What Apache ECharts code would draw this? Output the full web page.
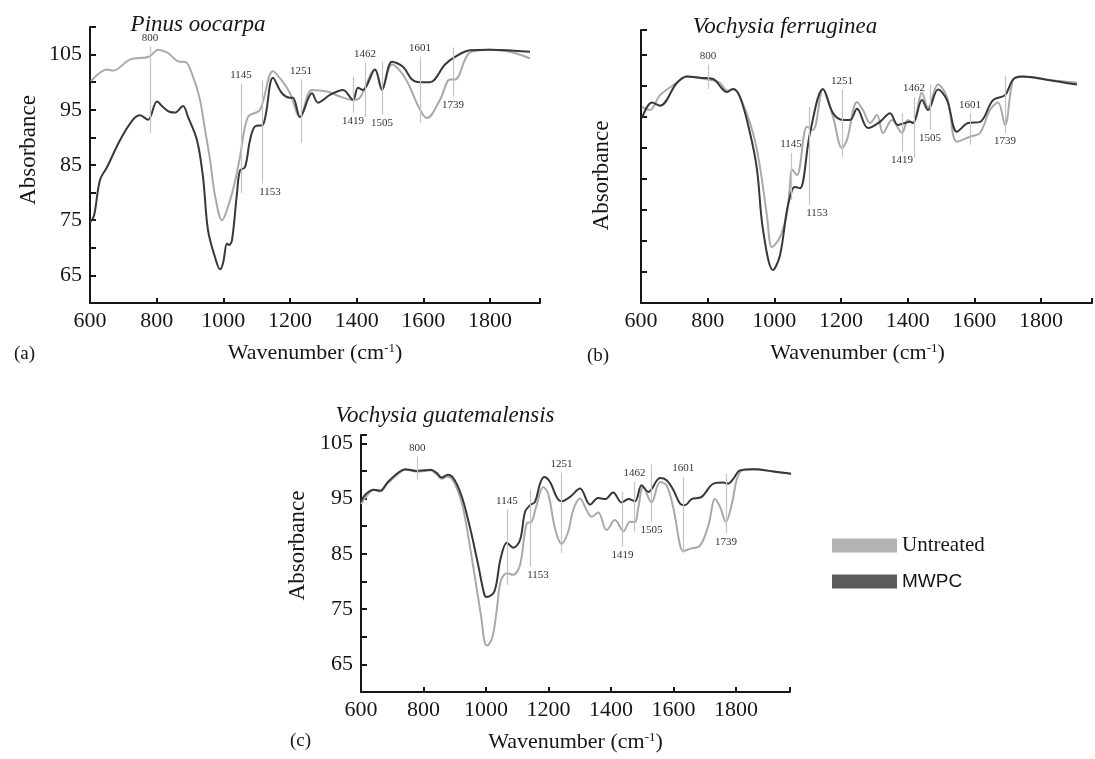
<!DOCTYPE html>
<html>
<head>
<meta charset="utf-8">
<style>
  html, body { margin: 0; padding: 0; background: #fff; }
  #chart { width: 1095px; height: 759px; }
</style>
<script src="https://cdn.jsdelivr.net/npm/echarts@6/dist/echarts.min.js"></script>
</head>
<body>
<div id="chart"></div>
<script>
// FTIR spectra, [wavenumber, absorbance]
var aUntreated = [[603,100.2],[651,102.3],[669,102.1],[720,104.1],[777,104.6],[804,105.9],[831,105.4],[870,103.7],[885,103.7],[909,101.0],[930,96.8],[945,91.4],[960,86.0],[975,79.5],[996,75.0],[1020,78.6],[1035,82.0],[1050,86.5],[1074,93.7],[1110,95.0],[1149,102.0],[1179,100.0],[1200,98.0],[1230,93.7],[1266,98.6],[1311,98.3],[1350,97.4],[1389,96.8],[1410,97.2],[1455,102.3],[1476,99.0],[1506,103.2],[1545,100.8],[1590,95.0],[1611,93.5],[1650,96.8],[1680,100.5],[1695,100.5],[1740,105.4],[1800,105.9],[1860,105.5],[1920,104.3]];
var aMWPC = [[600,74.6],[612,75.8],[630,82.3],[651,84.6],[690,89.5],[729,93.2],[750,94.0],[774,93.2],[801,96.5],[819,95.5],[840,94.6],[855,94.5],[879,95.7],[894,93.7],[921,89.5],[939,82.8],[954,73.2],[975,68.3],[990,66.1],[999,67.2],[1011,70.8],[1017,70.5],[1026,71.4],[1041,79.9],[1050,84.0],[1065,84.6],[1080,89.5],[1095,92.0],[1119,92.3],[1149,100.8],[1176,98.0],[1200,97.2],[1209,97.2],[1230,93.7],[1266,98.0],[1284,96.3],[1320,97.7],[1359,98.6],[1389,96.8],[1404,99.0],[1419,98.6],[1455,102.3],[1476,98.6],[1506,103.7],[1539,102.8],[1566,100.5],[1590,100.0],[1620,100.0],[1665,103.2],[1695,104.6],[1740,105.8],[1800,105.9],[1920,105.5]];

var bUntreated = [[603,91.6],[627,91.1],[657,93.5],[708,95.5],[738,96.5],[801,96.0],[837,95.5],[858,94.2],[876,94.5],[897,93.2],[936,87.4],[957,81.9],[978,74.0],[993,69.0],[1017,70.6],[1038,74.5],[1047,79.0],[1053,81.5],[1068,80.6],[1098,88.4],[1116,87.9],[1146,94.4],[1176,90.0],[1203,85.0],[1218,86.3],[1248,92.4],[1266,91.1],[1287,89.0],[1308,90.3],[1326,87.4],[1353,89.5],[1383,87.4],[1401,89.5],[1416,89.0],[1443,93.9],[1461,91.5],[1491,95.2],[1518,93.2],[1548,86.0],[1587,86.8],[1617,87.4],[1647,91.1],[1671,92.3],[1692,88.7],[1716,96.0],[1737,96.5],[1818,96.0],[1908,95.5]];
var bMWPC = [[603,89.8],[633,92.3],[657,91.8],[708,95.5],[738,96.5],[777,96.3],[816,96.1],[858,94.0],[876,94.5],[897,93.2],[927,87.4],[948,81.5],[966,71.8],[996,65.3],[1017,67.7],[1038,75.0],[1053,78.2],[1062,78.7],[1077,78.5],[1107,87.4],[1146,94.5],[1176,90.6],[1206,89.5],[1227,89.5],[1248,91.3],[1281,88.2],[1317,89.2],[1347,90.6],[1371,88.7],[1407,89.2],[1416,89.0],[1443,92.7],[1461,91.1],[1491,94.4],[1518,92.7],[1548,87.6],[1581,89.0],[1617,89.2],[1656,92.7],[1692,93.5],[1716,96.0],[1746,96.5],[1818,96.0],[1908,95.2]];

var cUntreated = [[600,94.0],[615,95.2],[641,96.6],[661,96.3],[686,97.8],[722,99.6],[742,100.2],[777,99.9],[803,100.0],[823,100.1],[843,99.3],[858,98.6],[878,99.0],[899,97.8],[924,93.9],[944,87.9],[965,80.6],[985,73.4],[995,69.2],[1003,68.4],[1020,69.8],[1034,74.6],[1047,80.0],[1067,81.5],[1087,81.2],[1109,83.0],[1130,90.5],[1146,90.8],[1162,93.8],[1183,97.1],[1199,95.9],[1221,89.6],[1242,86.8],[1263,89.0],[1279,92.9],[1301,95.0],[1322,92.9],[1338,91.7],[1359,92.5],[1386,89.3],[1413,91.1],[1440,89.1],[1461,90.8],[1477,90.7],[1487,93.2],[1503,97.1],[1530,94.3],[1557,98.0],[1578,97.4],[1600,93.2],[1621,86.6],[1631,85.5],[1653,85.9],[1685,86.5],[1712,90.2],[1733,94.9],[1749,93.5],[1768,90.8],[1786,93.8],[1813,99.8],[1856,100.3],[1920,99.9],[2000,99.3]];
var cMWPC = [[600,94.5],[615,95.8],[641,96.6],[661,96.4],[686,98.0],[722,99.8],[742,100.3],[777,100.0],[803,100.1],[823,100.2],[843,99.6],[858,98.8],[878,99.3],[899,98.4],[924,95.1],[949,89.7],[975,83.0],[995,77.6],[1003,77.2],[1027,78.2],[1047,84.2],[1067,87.0],[1087,86.1],[1109,87.5],[1125,92.6],[1141,93.8],[1157,94.4],[1173,97.7],[1186,98.9],[1205,98.0],[1226,95.3],[1242,94.5],[1269,95.3],[1301,96.8],[1333,93.9],[1359,95.1],[1381,94.9],[1407,96.1],[1434,94.3],[1456,94.9],[1477,94.5],[1498,97.4],[1520,96.2],[1557,98.7],[1578,98.3],[1600,96.5],[1621,94.1],[1637,93.8],[1658,94.9],[1690,95.3],[1728,97.7],[1759,97.9],[1775,97.7],[1792,98.6],[1813,100.1],[1856,100.3],[1920,99.9],[2000,99.3]];

// peak markers: label, which end the label sits at, and the marker line in each panel
var peakLabels = ['800', '1145', '1153', '1251', '1419', '1462', '1505', '1601', '1739'];
var peakSide = ['top', 'top', 'bottom', 'top', 'bottom', 'top', 'bottom', 'top', 'bottom'];
var aPeakX = [780, 1053, 1116, 1233, 1389, 1425, 1476, 1590, 1689];
var aPeakTop = [106.5, 99.7, 100.3, 100.5, 101, 103.5, 103.7, 104.6, 106.3];
var aPeakBottom = [90.8, 79.9, 81.7, 89, 94.5, 93.7, 94.1, 92.6, 97.4];
var bPeakX = [801, 1050, 1104, 1203, 1383, 1419, 1467, 1587, 1692];
var bPeakTop = [98.4, 84.2, 91.6, 94.4, 90.6, 93.2, 95.2, 90.6, 96.6];
var bPeakBottom = [94.5, 76.6, 75.8, 83.5, 84.4, 83.4, 87.9, 85.5, 87.4];
var cPeakX = [780, 1067, 1141, 1242, 1437, 1475, 1530, 1631, 1768];
var cPeakTop = [102.6, 93, 96.5, 99.7, 96.2, 98, 101.2, 98.9, 99.5];
var cPeakBottom = [98.4, 79.4, 82.7, 85.2, 86.3, 89, 90.8, 85.1, 88.7];

var seriesNames = ['Untreated', 'MWPC'];
var panelTitles = ['Pinus oocarpa', 'Vochysia ferruginea', 'Vochysia guatemalensis'];
var panelTags = ['(a)', '(b)', '(c)'];

var serif = 'Liberation Serif';
var ink = '#161616';
var lightGrey = '#a9a9a9';
var darkGrey = '#383838';

var chart = echarts.init(document.getElementById('chart'));

function peakLines(xs, tops, bottoms) {
    var out = [];
    for (var i = 0; i < xs.length; i++) {
        var lbl = {
            position: peakSide[i] === 'top' ? 'start' : 'end',
            formatter: peakLabels[i],
            distance: 3
        };
        if (peakLabels[i] === '1153') lbl.offset = [8, 0];
        out.push([
            { coord: [xs[i], tops[i]], label: lbl },
            { coord: [xs[i], bottoms[i]] }
        ]);
    }
    return out;
}

function peaksSeries(idx, xs, tops, bottoms) {
    return {
        name: 'peaks' + idx,
        type: 'line',
        xAxisIndex: idx,
        yAxisIndex: idx,
        data: [],
        silent: true,
        z: 1,
        markLine: {
            silent: true,
            symbol: ['none', 'none'],
            animation: false,
            lineStyle: { type: 'solid', color: '#c4c4c4', width: 1.2 },
            label: { fontFamily: serif, fontSize: 11, color: '#333' },
            emphasis: { disabled: true },
            data: peakLines(xs, tops, bottoms)
        }
    };
}

function curve(name, data, idx, color) {
    return {
        name: name,
        type: 'line',
        xAxisIndex: idx,
        yAxisIndex: idx,
        data: data,
        smooth: 0.35,
        showSymbol: false,
        clip: false,
        z: name === 'MWPC' ? 3 : 2,
        lineStyle: { color: color, width: 2 },
        itemStyle: { color: color },
        emphasis: { disabled: true }
    };
}

function xAxisFor(idx, max, pad) {
    return {
        type: 'value',
        gridIndex: idx,
        min: 600,
        max: max,
        interval: 200,
        splitLine: { show: false },
        axisLine: { show: true, onZero: false, lineStyle: { color: ink, width: 2 } },
        axisTick: { show: true, inside: true, length: 5, lineStyle: { color: ink, width: 2 } },
        axisLabel: {
            margin: 7, fontFamily: serif, fontSize: 22, color: ink,
            formatter: function (v) { return v % 200 === 0 ? String(v) : ''; }
        },
        name: 'Wavenumber (cm{sup|-1})',
        nameLocation: 'middle',
        nameGap: 39,
        nameTextStyle: {
            fontFamily: serif, fontSize: 22, color: ink, padding: pad,
            rich: { sup: { fontFamily: serif, fontSize: 13, color: ink, verticalAlign: 'top', padding: [0, 0, 8, 0] } }
        }
    };
}

function yAxisFor(idx, max, showLabels, gap, pad) {
    return {
        type: 'value',
        gridIndex: idx,
        min: 60,
        max: max,
        interval: 5,
        splitLine: { show: false },
        axisLine: { show: true, onZero: false, lineStyle: { color: ink, width: 2 } },
        axisTick: { show: true, inside: true, length: 6, lineStyle: { color: ink, width: 2 } },
        axisLabel: {
            show: showLabels, margin: 8, fontFamily: serif, fontSize: 22, color: ink,
            formatter: function (v) { return v % 10 === 5 ? String(v) : ''; }
        },
        name: 'Absorbance',
        nameLocation: 'middle',
        nameGap: gap,
        nameTextStyle: { fontFamily: serif, fontSize: 23, color: ink, padding: pad }
    };
}

var option = {
    animation: false,
    backgroundColor: '#fff',
    title: [
        { text: panelTitles[0], left: 193, top: 8, textAlign: 'center' },
        { text: panelTitles[1], left: 780, top: 10, textAlign: 'center' },
        { text: panelTitles[2], left: 440, top: 399, textAlign: 'center' }
    ].map(function (t) {
        t.textStyle = { fontFamily: serif, fontStyle: 'italic', fontWeight: 'normal', fontSize: 23, color: ink };
        return t;
    }),
    legend: {
        orient: 'vertical',
        left: 827,
        top: 530,
        itemWidth: 65,
        itemHeight: 14,
        itemGap: 16,
        selectedMode: false,
        itemStyle: { borderWidth: 0 },
        data: [
            { name: seriesNames[0], icon: 'rect', itemStyle: { color: '#b3b3b3', borderWidth: 0 },
              textStyle: { fontFamily: serif, fontSize: 21, color: ink } },
            { name: seriesNames[1], icon: 'rect', itemStyle: { color: '#5b5b5b', borderWidth: 0 },
              textStyle: { fontFamily: 'Liberation Sans', fontSize: 19, color: ink } }
        ]
    },
    grid: [
        { left: 90, top: 27, width: 450, height: 276, containLabel: false },
        { left: 641, top: 30, width: 451, height: 273, containLabel: false },
        { left: 361, top: 435, width: 429, height: 257, containLabel: false }
    ],
    xAxis: [
        xAxisFor(0, 1950, [0, 0, 0, 0]),
        xAxisFor(1, 1953, [0, 18, 0, 0]),
        xAxisFor(2, 1973, [0, 0, 0, 0])
    ],
    yAxis: [
        yAxisFor(0, 110, true, 50, [0, 0, 0, 30]),
        yAxisFor(1, 104, false, 28, [0, 18, 0, 0]),
        yAxisFor(2, 106.5, true, 52, [0, 0, 0, 36])
    ],
    graphic: [
        { type: 'text', left: 14, top: 345, style: { text: panelTags[0], font: '19px "Liberation Serif"', fill: ink } },
        { type: 'text', left: 587, top: 347, style: { text: panelTags[1], font: '19px "Liberation Serif"', fill: ink } },
        { type: 'text', left: 290, top: 732, style: { text: panelTags[2], font: '19px "Liberation Serif"', fill: ink } }
    ],
    series: [
        peaksSeries(0, aPeakX, aPeakTop, aPeakBottom),
        peaksSeries(1, bPeakX, bPeakTop, bPeakBottom),
        peaksSeries(2, cPeakX, cPeakTop, cPeakBottom),
        curve(seriesNames[0], aUntreated, 0, lightGrey),
        curve(seriesNames[1], aMWPC, 0, darkGrey),
        curve(seriesNames[0], bUntreated, 1, lightGrey),
        curve(seriesNames[1], bMWPC, 1, darkGrey),
        curve(seriesNames[0], cUntreated, 2, lightGrey),
        curve(seriesNames[1], cMWPC, 2, darkGrey)
    ]
};

chart.setOption(option);
</script>
</body>
</html>
